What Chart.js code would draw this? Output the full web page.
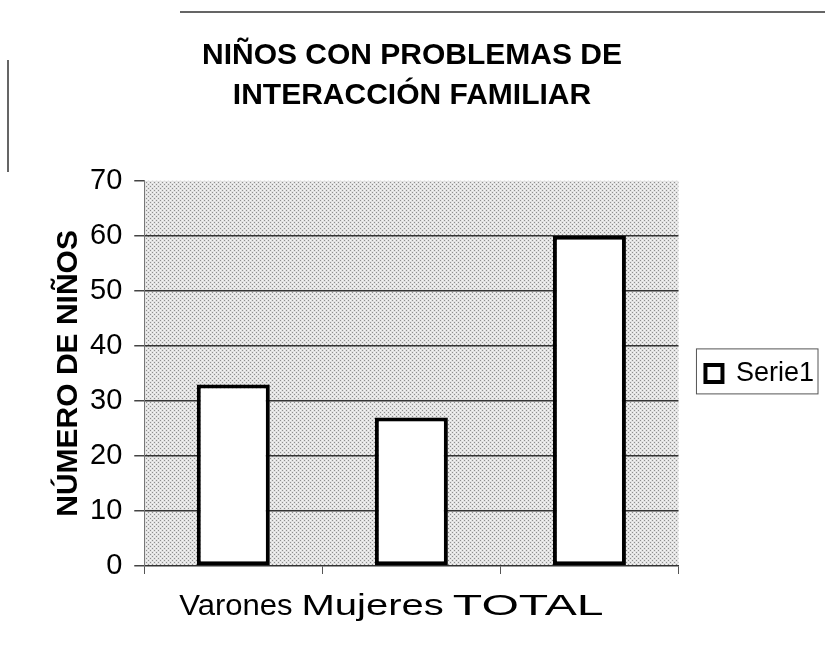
<!DOCTYPE html>
<html>
<head>
<meta charset="utf-8">
<script src="https://cdn.jsdelivr.net/npm/chart.js@4.4.0/dist/chart.umd.min.js"></script>
<style>
  body { margin: 0; background: #fff; }
  #wrap { width: 825px; height: 646px; }
</style>
</head>
<body>
<div id="wrap"><canvas id="chart" width="825" height="646"></canvas></div>
<script>
const categories = ["Varones", "Mujeres", "TOTAL"];
const serie1 = [33, 27, 60];
const yTicks = [0, 10, 20, 30, 40, 50, 60, 70];
const titleLines = ["NIÑOS CON PROBLEMAS DE", "INTERACCIÓN FAMILIAR"];

const arial = "'Liberation Sans', Arial, sans-serif";
// the scanned x labels are stretched sideways by different amounts
const labelStretch = [1.07, 1.38, 1.66];

function makePattern() {
    const c = document.createElement("canvas");
    c.width = 4; c.height = 4;
    const g = c.getContext("2d");
    g.fillStyle = "#e2e2e2";
    g.fillRect(0, 0, 4, 4);
    g.fillStyle = "#8f8f8f";
    g.fillRect(0, 0, 1, 1);
    g.fillRect(2, 2, 1, 1);
    g.fillStyle = "#f6f6f6";
    g.fillRect(2, 0, 1, 1);
    g.fillRect(0, 2, 1, 1);
    return c;
}

const plotBg = {
    id: "plotBg",
    beforeDraw(chart) {
        const { ctx, chartArea: a } = chart;
        ctx.save();
        ctx.fillStyle = ctx.createPattern(makePattern(), "repeat");
        ctx.fillRect(a.left, a.top, a.right - a.left, a.bottom - a.top);
        ctx.restore();
    }
};

// scan decorations, x labels drawn as one line, legend frame
const extras = {
    id: "extras",
    afterDraw(chart) {
        const { ctx, chartArea: a } = chart;
        ctx.save();
        ctx.strokeStyle = "#333";
        ctx.lineWidth = 1.5;
        ctx.beginPath();
        ctx.moveTo(180, 12); ctx.lineTo(825, 12);
        ctx.moveTo(8, 60); ctx.lineTo(8, 172);
        ctx.stroke();

        ctx.fillStyle = "#000";
        ctx.textBaseline = "alphabetic";
        ctx.textAlign = "left";
        ctx.font = "29px " + arial;
        let x = a.left + 35;
        const y = a.bottom + 49;
        categories.forEach((c, i) => {
            const s = labelStretch[i];
            ctx.save();
            ctx.translate(x, y);
            ctx.scale(s, 1);
            ctx.fillText(c, 0, 0);
            ctx.restore();
            x += ctx.measureText(c).width * s + 9;
        });

        const lg = chart.legend;
        if (lg && lg.legendHitBoxes.length) {
            const hb = lg.legendHitBoxes[0];
            ctx.strokeStyle = "#555";
            ctx.lineWidth = 1;
            ctx.strokeRect(hb.left - 9, hb.top - 11, hb.width + 13, hb.height + 18);
        }
        ctx.restore();
    }
};

new Chart(document.getElementById("chart"), {
    type: "bar",
    data: {
        labels: categories,
        datasets: [{
            label: "Serie1",
            data: serie1,
            backgroundColor: "#fff",
            borderColor: "#000",
            borderWidth: 4,
            borderSkipped: false,
            barPercentage: 0.41,
            categoryPercentage: 1
        }]
    },
    options: {
        responsive: false,
        animation: false,
        layout: { padding: { left: 0, right: 1, top: 0, bottom: 72 } },
        plugins: {
            title: {
                display: true,
                text: titleLines,
                color: "#000",
                font: { family: arial, size: 30, weight: "bold", lineHeight: 1.33 },
                padding: { top: 36, bottom: 65 }
            },
            legend: {
                position: "right",
                fullSize: false,
                labels: {
                    color: "#000",
                    font: { family: arial, size: 27 },
                    boxWidth: 17,
                    boxHeight: 17,
                    padding: 27
                }
            },
            tooltip: { enabled: false }
        },
        scales: {
            x: {
                grid: { offset: true, drawOnChartArea: false, tickLength: 8, tickColor: "#555" },
                border: { color: "#333", width: 1.5 },
                ticks: { display: false }
            },
            y: {
                min: 0,
                max: 70,
                afterBuildTicks(scale) {
                    scale.ticks = yTicks.map(v => ({ value: v }));
                },
                grid: {
                    color: c => (c.tick && (c.tick.value === 70 || c.tick.value === 0)) ? "rgba(0,0,0,0)" : "#333",
                    lineWidth: 1.5,
                    tickColor: "#444",
                    tickLength: 10
                },
                border: { color: "#777", width: 1 },
                ticks: { color: "#000", font: { family: arial, size: 29 }, padding: 12 },
                title: {
                    display: true,
                    text: "NÚMERO DE NIÑOS",
                    color: "#000",
                    font: { family: arial, size: 30, weight: "bold", lineHeight: 1.2 },
                    padding: { top: 51, bottom: -9 }
                }
            }
        }
    },
    plugins: [plotBg, extras]
});
</script>
</body>
</html>
